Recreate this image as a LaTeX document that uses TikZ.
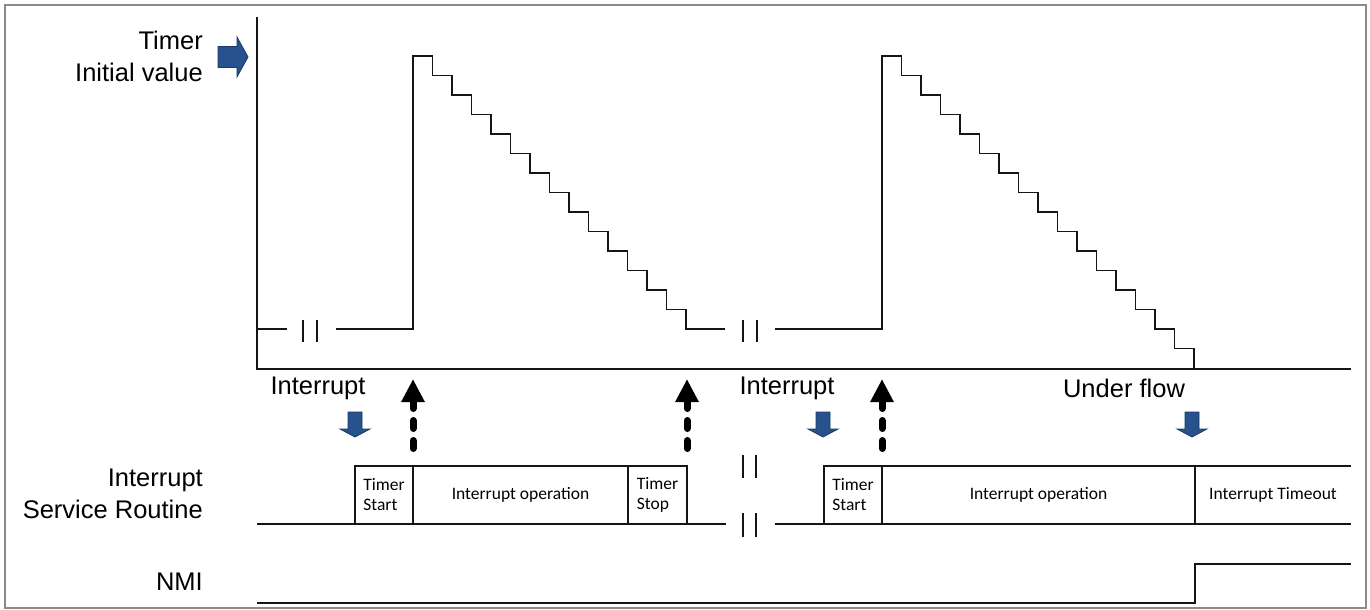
\documentclass[tikz,border=0pt]{standalone}
\usepackage{fontspec}
\setmainfont{Liberation Sans}
\newfontfamily\boxfont{Carlito}
\usetikzlibrary{arrows.meta}
\definecolor{irqblue}{HTML}{27528D}
\definecolor{irqedge}{HTML}{1B3A66}
\definecolor{framegray}{HTML}{8A8A8A}
\definecolor{wave}{HTML}{151515}
\tikzset{
  % --- signal traces and break marks ---
  trace/.style={draw=wave, line width=1.6pt, line join=miter},
  brk/.style={draw=wave, line width=2.4pt},
  % --- text ---
  siglabel/.style={font=\fontsize{25.5}{32}\selectfont, align=right, anchor=east,
                   inner sep=0pt},
  evlabel/.style={font=\fontsize{25.5}{32}\selectfont, inner sep=0pt},
  boxtext/.style={font=\boxfont\fontsize{17.5}{20}\selectfont, align=left,
                  inner sep=0pt},
  % --- arrows ---
  blkarrow/.style={fill=irqblue, draw=irqedge, line width=0.8pt, line join=miter},
  trigger/.style={draw=black, line width=7pt, line cap=round,
                  dash pattern=on 8pt off 12pt,
                  -{Triangle[length=23pt,width=22pt]}},
  irqdown/.pic={\path[blkarrow] (-7,0) -- (7,0) -- (7,17) -- (15,17) -- (0,25)
                -- (-15,17) -- (-7,17) -- cycle;},
  initright/.pic={\path[blkarrow] (0,-10.5) -- (19,-10.5) -- (19,-20) -- (30,0)
                  -- (19,20) -- (19,10.5) -- (0,10.5) -- cycle;},
}

\begin{document}
\begin{tikzpicture}[x=1pt, y=-1pt]
  \useasboundingbox (0,0) rectangle (1370,610);
  \draw[framegray, line width=1.5pt] (5,5) rectangle (1366,608);

  % --- signal names on the left ---
  \node[siglabel] (timer) at (203,56) {Timer\\Initial value};
  \node[siglabel] (isr)   at (203,494) {Interrupt\\Service Routine};
  \node[siglabel] (nmi)   at (203,582) {NMI};
  \pic at (218,57) {initright};

  % --- timer count axes ---
  \draw[trace] (257,17) -- (257,369) -- (1351,369);

  % --- first run: started, counted down, stopped ---
  \draw[trace] (257,329) -- (287,329);
  \draw[brk] (303,320) -- (303,342) (317,320) -- (317,342);
  \draw[trace] (336,329) -- (413,329) -- (413,56)
    foreach \k in {1,...,14} { -- ++(19.5,0) -- ++(0,19.5) } -- (725,329);
  \draw[brk] (743,320) -- (743,342) (757,320) -- (757,342);

  % --- second run: counts down to underflow ---
  \draw[trace] (775,329) -- (882,329) -- (882,56)
    foreach \k in {1,...,16} { -- ++(19.5,0) -- ++(0,19.5) };

  % --- events ---
  \node[evlabel] (irq1)  at (318,388) {Interrupt};
  \node[evlabel] (irq2)  at (787,388) {Interrupt};
  \node[evlabel] (uflow) at (1124,388) {Under flow};
  \pic at (355,412) {irqdown};
  \pic at (823,412) {irqdown};
  \pic at (1192,412) {irqdown};

  % --- ISR timeline ---
  \draw[trace] (257,524) -- (726,524) (775,524) -- (1351,524);
  \draw[trace] (355,524) rectangle (687,466) (413,466) -- (413,524)
    (628,466) -- (628,524);
  \draw[trace] (1351,466) -- (824,466) -- (824,524) (882,466) -- (882,524)
    (1195,466) -- (1195,524);
  \draw[brk] (743,455) -- (743,478) (756,455) -- (756,478);
  \draw[brk] (743,513) -- (743,537) (756,513) -- (756,537);

  \node[boxtext] (start1) at (384,495)    {Timer\\Start};
  \node[boxtext] (oper1)  at (520.5,495)  {Interrupt operation};
  \node[boxtext] (stop1)  at (657.5,495)  {Timer\\Stop};
  \node[boxtext] (start2) at (853,495)    {Timer\\Start};
  \node[boxtext] (oper2)  at (1038.5,495) {Interrupt operation};
  \node[boxtext] (tmout)  at (1273,495)   {Interrupt Timeout};

  % --- timer start/stop triggers from the ISR ---
  \coordinate (go1)  at (413,448.5);  \coordinate (go1t)  at (413,379);
  \coordinate (end1) at (687,448.5);  \coordinate (end1t) at (687,379);
  \coordinate (go2)  at (882,448.5);  \coordinate (go2t)  at (882,379);
  \draw[trigger] (go1) -- (go1t);
  \draw[trigger] (end1) -- (end1t);
  \draw[trigger] (go2) -- (go2t);

  % --- NMI line ---
  \draw[trace] (257,603) -- (1195,603) -- (1195,564) -- (1351,564);
\end{tikzpicture}
\end{document}
